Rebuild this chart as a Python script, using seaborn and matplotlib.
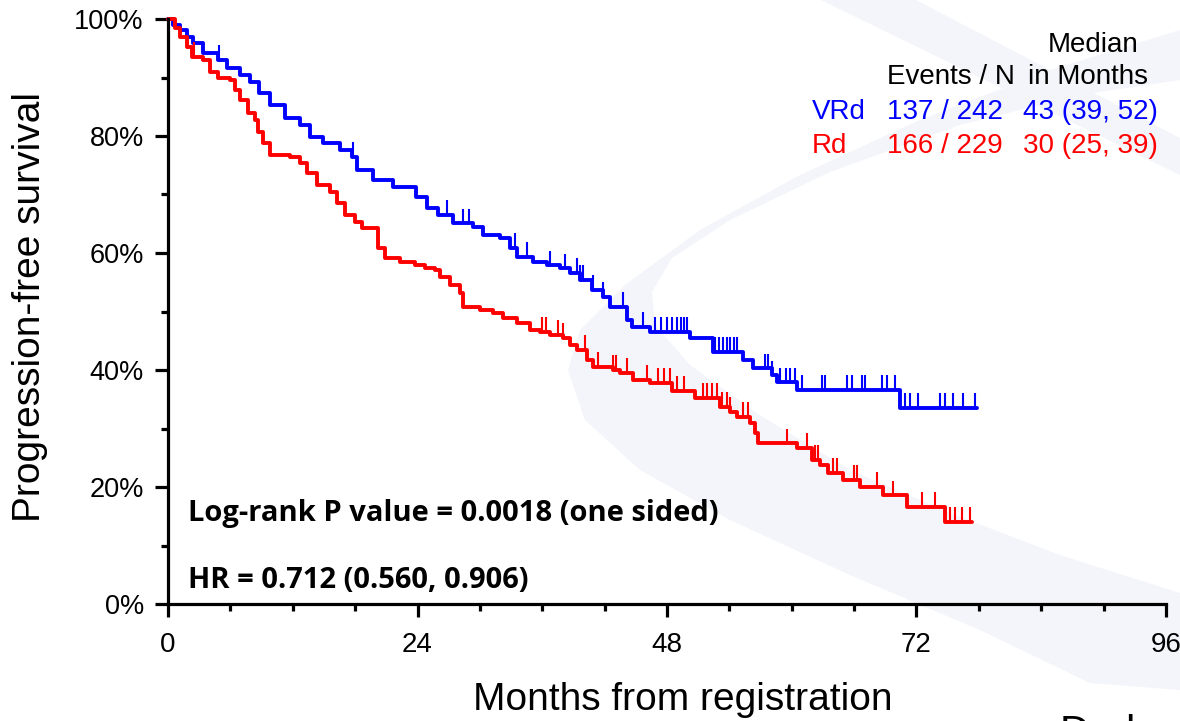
import numpy as np
import pandas as pd
import matplotlib
matplotlib.use("Agg")
import matplotlib.pyplot as plt
import seaborn as sns
from matplotlib.patches import Polygon

# ---------------- data ----------------
vrd_times = [0, 0.5, 1.15, 1.8, 2.4, 3.4, 4.8, 5.7, 6.9, 7.9, 8.8, 9.8, 11.3, 12.7, 13.7,
             14.9, 16.5, 17.7, 18.2, 19.7, 21.6, 23.9, 24.9, 26.0, 27.4, 29.3, 30.3, 31.9,
             32.9, 33.6, 35.1, 36.5, 37.7, 38.7, 39.6, 40.8, 41.8, 42.5, 44.2, 44.6, 46.4,
             50.2, 52.4, 55.3, 56.3, 58.1, 58.6, 60.5, 70.4]
vrd_surv = [100, 99.0, 98.1, 97.0, 95.9, 94.2, 93.0, 91.6, 90.4, 89.2, 87.4, 85.3, 83.1, 81.9,
            79.8, 78.8, 77.6, 76.4, 74.2, 72.5, 71.3, 69.6, 67.7, 66.5, 65.1, 64.4, 63.1, 62.6,
            60.9, 59.3, 58.5, 57.9, 57.4, 56.6, 55.4, 53.7, 52.5, 50.8, 48.5, 47.4, 46.5,
            45.5, 43.1, 41.7, 40.3, 39.1, 37.9, 36.6, 33.5]
vrd_censor = [4.9, 17.8, 26.8, 28.4, 29.0, 33.4, 34.5, 36.7, 38.2, 39.3, 39.6, 39.9, 40.9,
              41.8, 43.8, 45.7, 46.8, 47.4, 48.0, 48.5, 49.0, 49.3, 49.6, 49.9, 52.6, 53.0,
              53.4, 53.8, 54.1, 54.4, 54.7, 57.4, 57.7, 58.1, 58.9, 59.4, 59.8, 60.3, 61.0,
              62.9, 63.2, 65.3, 65.8, 66.8, 67.0, 68.7, 69.2, 69.9, 70.9, 71.4, 72.1, 74.3,
              74.7, 75.5, 76.5, 77.6]
vrd_end = 77.8

rd_times = [0, 0.7, 1.15, 1.8, 2.3, 3.4, 4.0, 4.8, 6.0, 6.4, 6.9, 7.7, 8.4, 8.7, 9.1, 9.8,
            11.7, 12.7, 13.4, 14.3, 15.6, 16.3, 17.0, 18.0, 18.7, 20.2, 20.9, 22.3, 23.8,
            24.7, 25.7, 26.2, 27.1, 28.1, 28.4, 30.0, 31.3, 32.2, 33.6, 34.8, 35.8, 36.7,
            38.0, 38.7, 39.3, 40.3, 40.9, 42.8, 43.5, 44.7, 46.4, 48.5, 50.7, 53.1, 54.1,
            54.7, 56.0, 56.5, 56.8, 60.5, 61.9, 62.7, 63.5, 64.9, 66.6, 68.8, 71.1, 74.7]
rd_surv = [100, 98.5, 96.9, 95.2, 93.5, 93.0, 90.9, 89.9, 89.6, 87.9, 86.2, 83.9, 82.7, 80.7,
           78.8, 76.8, 76.4, 75.4, 73.7, 71.6, 70.4, 68.5, 66.5, 65.3, 64.3, 60.9, 59.1, 58.5,
           58.0, 57.4, 57.1, 55.9, 54.5, 53.2, 50.8, 50.3, 49.7, 48.9, 48.0, 46.8, 46.5, 46.0,
           45.5, 44.3, 43.4, 41.7, 40.5, 40.0, 39.5, 38.3, 37.8, 36.4, 35.2, 33.7, 32.8,
           32.0, 30.9, 29.2, 27.5, 26.7, 24.6, 23.8, 22.4, 21.2, 20.0, 18.6, 16.6, 14.0]
rd_censor = [2.5, 36.0, 36.4, 37.5, 38.0, 40.1, 41.4, 42.8, 43.1, 44.2, 46.1, 47.1, 47.7,
             48.3, 49.0, 49.6, 51.5, 51.8, 52.3, 52.8, 53.3, 53.8, 54.1, 55.3, 55.8, 59.5,
             61.5, 62.2, 62.5, 64.0, 64.4, 66.0, 66.3, 68.2, 69.7, 72.5, 73.8, 75.2, 75.7,
             76.4, 77.1]
rd_end = 77.3

arm_names = ["VRd", "Rd"]
arm_colors = {"VRd": "#0000ff", "Rd": "#ff0000"}
events_n = ["137 / 242", "166 / 229"]
medians = ["43 (39, 52)", "30 (25, 39)"]
x_ticks = [0, 24, 48, 72, 96]
y_ticks = [0, 20, 40, 60, 80, 100]
y_tick_labels = ["0%", "20%", "40%", "60%", "80%", "100%"]

# ---------------- figure ----------------
W, H = 1180, 721
sns.set_theme(style="white")
plt.rcParams["font.family"] = ["Liberation Sans", "DejaVu Sans"]

fig = plt.figure(figsize=(W / 100, H / 100), dpi=100)
fig.patch.set_facecolor("white")


def px(x, y):
    return x / W, 1 - y / H


# faint watermark shapes in the background (decoration)
wm = "#f4f5fa"
crescent = [(1180, 30), (1050, 70), (920, 120), (800, 175), (700, 230), (625, 285),
            (580, 330), (568, 370), (585, 420), (640, 470), (730, 520), (850, 575),
            (980, 630), (1090, 683), (1180, 690),
            (1180, 593), (1060, 555), (955, 515), (850, 470), (758, 414), (690, 365),
            (655, 325), (652, 292), (672, 258), (730, 220), (830, 172), (960, 125),
            (1080, 95), (1180, 80)]
band = [(821, 0), (916, 0), (1180, 138), (1180, 175)]
for shp in (crescent, band):
    fig.patches.append(Polygon([px(a, b) for a, b in shp], closed=True,
                               transform=fig.transFigure, facecolor=wm,
                               edgecolor="none", zorder=-5))

ax = fig.add_axes([168 / W, 1 - 604 / H, (1166 - 168) / W, (604 - 19) / H])
ax.set_zorder(2)
ax.set_facecolor("none")

rows = []
for name, t, s, end in (("VRd", vrd_times, vrd_surv, vrd_end), ("Rd", rd_times, rd_surv, rd_end)):
    for ti, si in zip(list(t) + [end], list(s) + [s[-1]]):
        rows.append({"arm": name, "month": ti, "pfs": si})
df = pd.DataFrame(rows)

sns.lineplot(data=df, x="month", y="pfs", hue="arm", palette=arm_colors, estimator=None,
             sort=False, drawstyle="steps-post", linewidth=2.8, legend=False, ax=ax)
for ln in ax.lines:
    ln.set_clip_on(False)

# censoring marks
for name, t, s, c in (("VRd", vrd_times, vrd_surv, vrd_censor), ("Rd", rd_times, rd_surv, rd_censor)):
    t = np.asarray(t)
    s = np.asarray(s)
    c = np.asarray(c)
    idx = np.searchsorted(t, c, side="right") - 1
    yv = s[idx]
    ax.vlines(c, yv, yv + 2.5, color=arm_colors[name], linewidth=1.5)

ax.set_xlim(0, 96)
ax.set_ylim(0, 100)
for sp in ("top", "right"):
    ax.spines[sp].set_visible(False)
for sp in ("left", "bottom"):
    ax.spines[sp].set_linewidth(2.3)
    ax.spines[sp].set_color("black")

ax.set_xticks(x_ticks)
ax.set_xticks(np.arange(0, 97, 6), minor=True)
ax.set_yticks(y_ticks)
ax.set_yticklabels(y_tick_labels)
ax.set_yticks(np.arange(0, 101, 10), minor=True)
ax.tick_params(axis="both", which="major", direction="out", length=9.4, width=2.3,
               color="black", labelcolor="black")
ax.tick_params(axis="both", which="minor", direction="out", length=5, width=2.3, color="black")
ax.tick_params(axis="y", which="major", pad=8, labelsize=19.5)
ax.tick_params(axis="x", which="major", pad=11, labelsize=20)
ax.tick_params(bottom=True, left=True, which="both")
ax.grid(False)

ax.set_xlabel("")
ax.set_ylabel("")
fig.text(*px(30, 307), "Progression-free survival", rotation=90, fontsize=28,
         ha="center", va="center", color="black")
fig.text(*px(683, 700), "Months from registration", fontsize=28,
         ha="center", va="center", color="black")

# statistics text
stat_font = dict(family=["Open Sans", "DejaVu Sans"], weight="bold", fontsize=21, color="black")
fig.text(*px(188, 513), "Log-rank P value = 0.0018 (one sided)", ha="left", va="center", **stat_font)
fig.text(*px(188, 580), "HR = 0.712 (0.560, 0.906)", ha="left", va="center", **stat_font)

# table at top right
tfs = 20
fig.text(*px(1093, 45), "Median", fontsize=tfs, ha="center", va="center", color="black")
fig.text(*px(951, 77), "Events / N", fontsize=tfs, ha="center", va="center", color="black")
fig.text(*px(1088, 77), "in Months", fontsize=tfs, ha="center", va="center", color="black")
for i, name in enumerate(arm_names):
    yy = 112 + i * 34
    col = arm_colors[name]
    fig.text(*px(812, yy), name, fontsize=tfs, ha="left", va="center", color=col)
    fig.text(*px(1003, yy), events_n[i], fontsize=tfs, ha="right", va="center", color=col)
    fig.text(*px(1023, yy), medians[i], fontsize=tfs, ha="left", va="center", color=col)

# clipped text fragment at the bottom right edge (as in the reference)
fig.text(*px(1060, 714), "Dark", fontsize=30, ha="left", va="top", color="black")

fig.savefig("out.png", dpi=100, facecolor="white")
